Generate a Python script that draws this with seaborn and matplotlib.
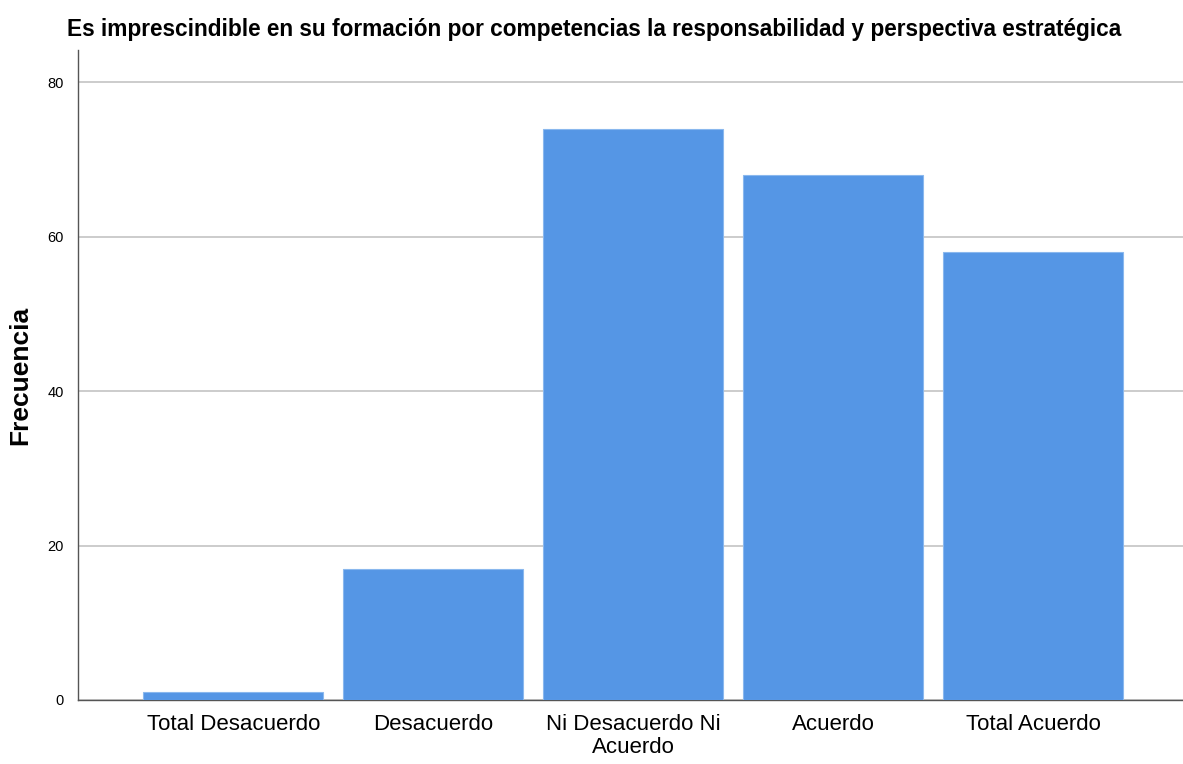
import matplotlib
matplotlib.use("Agg")
import matplotlib.pyplot as plt
import pandas as pd
import seaborn as sns

categories = ["Total Desacuerdo", "Desacuerdo", "Ni Desacuerdo Ni\nAcuerdo", "Acuerdo", "Total Acuerdo"]
frecuencia = [1, 17, 74, 68, 58]
yticks = [0, 20, 40, 60, 80]

TITLE = "Es imprescindible en su formación por competencias la responsabilidad y perspectiva estratégica"
BAR_COLOR = "#5596e5"

sns.set_style("white")
plt.rcParams["font.family"] = ["Liberation Sans", "DejaVu Sans"]
plt.rcParams["text.color"] = "black"
plt.rcParams["axes.labelcolor"] = "black"
plt.rcParams["xtick.color"] = "black"
plt.rcParams["ytick.color"] = "black"

df = pd.DataFrame({"categoria": categories, "frecuencia": frecuencia})

fig = plt.figure(figsize=(11.83, 7.64), dpi=100)
ax = fig.add_axes([0.0659, 0.0838, 0.9341, 0.8508])

sns.barplot(data=df, x="categoria", y="frecuencia", color=BAR_COLOR, width=0.9,
            saturation=1, edgecolor="#8ab8ee", linewidth=0.8, ax=ax, zorder=3)

ax.set_xlim(-0.7775, 4.7475)
ax.set_ylim(0, 84.2)
ax.set_yticks(yticks)
ax.yaxis.grid(True, color="#c8c8c8", linewidth=1.3, zorder=0)
ax.tick_params(axis="y", length=0, labelsize=10.5, pad=10)
ax.tick_params(axis="x", length=0, labelsize=16, pad=10)
for lbl in ax.get_xticklabels():
    lbl.set_linespacing(1.12)

for s in ["top", "right"]:
    ax.spines[s].set_visible(False)
for s in ["left", "bottom"]:
    ax.spines[s].set_color("#555555")
    ax.spines[s].set_linewidth(1.0)

ax.set_xlabel("")
ax.set_ylabel("Frecuencia", fontsize=19, fontweight="bold", labelpad=11)
fig.text(0.5025, 0.961, TITLE, ha="center", va="center", fontsize=16.3, fontweight="bold")

fig.savefig("out.png", dpi=100)
